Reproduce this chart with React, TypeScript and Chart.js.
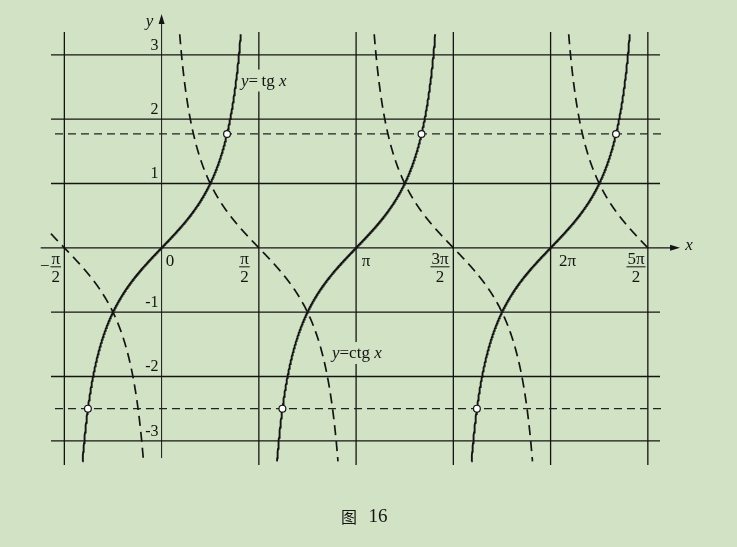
import React, { useEffect, useRef } from "react";
import { Chart, registerables } from "chart.js";
Chart.register(...registerables);

const PI = Math.PI;

// x ticks, in multiples of π
const xTickMultiples = [-0.5, 0, 0.5, 1, 1.5, 2, 2.5];
const xTickSigns = ["−", "", "", "", "", "", ""];
const xTickNumerators = ["π", "0", "π", "π", "3π", "2π", "5π"];
const xTickDenominators = ["2", "", "2", "", "2", "", "2"];

// y ticks
const yTickValues = [3, 2, 1, -1, -2, -3];
const yTickLabels = ["3", "2", "1", "-1", "-2", "-3"];

// tan branches: centres in multiples of π
const tanBranchCentres = [0, 1, 2];
// cot branches: [from, to] in multiples of π
const cotBranchFrom = [-0.577, 0, 1, 2];
const cotBranchTo = [0, 1, 2, 2.5];
const curveLimit = 3.32;

// dashed horizontal levels
const levelValues = [1.77, -2.5];
const levelFrom = -1.722;
const levelTo = 8.099;

// axis extents (radians / units)
const xAxisFrom = -1.953;
const xAxisTo = 8.374;
const yAxisFrom = -3.268;
const yAxisTo = 3.634;

// scale ranges
const xMin = -1.7865;
const xMax = 8.0504;
const yMin = -3.376;
const yMax = 3.355;

// curve labels: [x (rad), y (baseline value)]
const tanLabelPos = [1.2825, 2.523];
const cotLabelPos = [2.752, -1.713];

const BG = "#d2e2c5";
const INK = "#141414";
const SERIF = '"Liberation Serif", "DejaVu Serif", serif';

function tanPoints(c: number) {
  const a = Math.atan(curveLimit);
  const N = 600;
  const pts: { x: number; y: number }[] = [];
  for (let i = 0; i <= N; i++) {
    const t = -a + (2 * a * i) / N;
    pts.push({ x: c * PI + t, y: Math.tan(t) });
  }
  return pts;
}

function cotPoints(from: number, to: number) {
  const k = Math.floor(from + 1e-9);
  const e = Math.atan(1 / curveLimit);
  const lo = Math.max(from * PI, k * PI + e);
  const hi = Math.min(to * PI, (k + 1) * PI - e);
  const N = 600;
  const pts: { x: number; y: number }[] = [];
  for (let i = 0; i <= N; i++) {
    const x = lo + ((hi - lo) * i) / N;
    pts.push({ x, y: 1 / Math.tan(x) });
  }
  return pts;
}

function drawMixed(
  ctx: CanvasRenderingContext2D,
  parts: { t: string; it: boolean }[],
  x: number,
  y: number,
  size: number,
  patch: boolean
) {
  let w = 0;
  parts.forEach((p) => {
    ctx.font = `${p.it ? "italic " : ""}${size}px ${SERIF}`;
    w += ctx.measureText(p.t).width;
  });
  if (patch) {
    ctx.fillStyle = BG;
    ctx.fillRect(x - 2, y - size + 1, w + 4, size + 5);
  }
  ctx.fillStyle = INK;
  ctx.textAlign = "left";
  ctx.textBaseline = "alphabetic";
  let cx = x;
  parts.forEach((p) => {
    ctx.font = `${p.it ? "italic " : ""}${size}px ${SERIF}`;
    ctx.fillText(p.t, cx, y);
    cx += ctx.measureText(p.t).width;
  });
}

const figurePlugin = {
  id: "figure",
  beforeDraw(chart: any) {
    const { ctx, width, height } = chart;
    ctx.save();
    ctx.fillStyle = BG;
    ctx.fillRect(0, 0, width, height);
    ctx.restore();
  },
  beforeDatasetsDraw(chart: any) {
    const { ctx, chartArea } = chart;
    const xs = chart.scales.x;
    const ys = chart.scales.y;
    ctx.save();
    const seg = (x1: number, y1: number, x2: number, y2: number) => {
      ctx.beginPath();
      ctx.moveTo(x1, y1);
      ctx.lineTo(x2, y2);
      ctx.stroke();
    };
    ctx.strokeStyle = INK;
    ctx.lineWidth = 1.3;
    // vertical grid
    xTickMultiples.forEach((m) => {
      if (m === 0) return;
      const px = xs.getPixelForValue(m * PI);
      seg(px, chartArea.top, px, chartArea.bottom);
    });
    // horizontal grid
    yTickValues.forEach((v) => {
      const py = ys.getPixelForValue(v);
      seg(chartArea.left, py, chartArea.right, py);
    });
    // x axis with arrow
    const y0 = ys.getPixelForValue(0);
    const xa = xs.getPixelForValue(xAxisFrom);
    const xb = xs.getPixelForValue(xAxisTo);
    seg(xa, y0, xb - 6, y0);
    ctx.fillStyle = INK;
    ctx.beginPath();
    ctx.moveTo(xb, y0);
    ctx.lineTo(xb - 10, y0 - 3);
    ctx.lineTo(xb - 10, y0 + 3);
    ctx.closePath();
    ctx.fill();
    // y axis with arrow
    const x0 = xs.getPixelForValue(0);
    const ya = ys.getPixelForValue(yAxisFrom);
    const yb = ys.getPixelForValue(yAxisTo);
    ctx.lineWidth = 1;
    seg(x0, ya, x0, yb + 6);
    ctx.beginPath();
    ctx.moveTo(x0, yb);
    ctx.lineTo(x0 - 3, yb + 10);
    ctx.lineTo(x0 + 3, yb + 10);
    ctx.closePath();
    ctx.fill();

    // axis names
    ctx.fillStyle = INK;
    ctx.font = `italic 17px ${SERIF}`;
    ctx.textAlign = "center";
    ctx.textBaseline = "middle";
    ctx.fillText("x", xb + 9, y0 - 2);
    ctx.fillText("y", x0 - 12, yb + 7);

    // y tick labels
    ctx.font = `16px ${SERIF}`;
    ctx.textAlign = "right";
    ctx.textBaseline = "alphabetic";
    yTickValues.forEach((v, i) => {
      const py = ys.getPixelForValue(v);
      ctx.fillText(yTickLabels[i], x0 - 3, py - 5);
    });

    // x tick labels
    const fracOffsets = [-8.6, 8.4, -14.4, 10, -13.3, 17, -11.8];
    xTickMultiples.forEach((m, i) => {
      const px = xs.getPixelForValue(m * PI) + fracOffsets[i];
      const num = xTickNumerators[i];
      const den = xTickDenominators[i];
      ctx.fillStyle = INK;
      ctx.textAlign = "center";
      ctx.textBaseline = "alphabetic";
      ctx.font = `17px ${SERIF}`;
      if (den) {
        const w = ctx.measureText(num).width;
        ctx.fillText(num, px, y0 + 16);
        ctx.lineWidth = 1;
        seg(px - w / 2 - 1, y0 + 19, px + w / 2 + 1, y0 + 19);
        ctx.fillText(den, px, y0 + 34);
        if (xTickSigns[i]) {
          ctx.textAlign = "right";
          ctx.fillText(xTickSigns[i], px - w / 2 - 2, y0 + 23);
        }
      } else {
        ctx.fillText(num, px, y0 + 18);
      }
    });

    // curve labels with background patches
    drawMixed(
      ctx,
      [
        { t: "y", it: true },
        { t: "=", it: false },
        { t: "\u2009tg ", it: false },
        { t: "x", it: true },
      ],
      xs.getPixelForValue(tanLabelPos[0]),
      ys.getPixelForValue(tanLabelPos[1]),
      17,
      true
    );
    drawMixed(
      ctx,
      [
        { t: "y", it: true },
        { t: "=", it: false },
        { t: "ctg ", it: false },
        { t: "x", it: true },
      ],
      xs.getPixelForValue(cotLabelPos[0]),
      ys.getPixelForValue(cotLabelPos[1]),
      17,
      true
    );

    // caption
    ctx.fillStyle = INK;
    ctx.textBaseline = "middle";
    ctx.textAlign = "center";
    ctx.font = `16px "Noto Sans CJK SC", sans-serif`;
    ctx.fillText("图", 349, 517);
    ctx.font = `19px ${SERIF}`;
    ctx.fillText("16", 378, 517);
    ctx.restore();
  },
};

export default function App() {
  const ref = useRef<HTMLCanvasElement | null>(null);
  useEffect(() => {
    if (!ref.current) return;
    const circles: { x: number; y: number }[] = [];
    levelValues.forEach((lv) => {
      tanBranchCentres.forEach((c) => {
        circles.push({ x: c * PI + Math.atan(lv), y: lv });
      });
    });
    const datasets: any[] = [];
    datasets.push({
      data: circles,
      showLine: false,
      pointRadius: 3.4,
      pointBackgroundColor: "#ffffff",
      pointBorderColor: INK,
      pointBorderWidth: 1.2,
      order: 0,
      clip: false,
    });
    tanBranchCentres.forEach((c) => {
      datasets.push({
        data: tanPoints(c),
        showLine: true,
        pointRadius: 0,
        borderColor: INK,
        borderWidth: 1.9,
        order: 1,
        clip: false,
      });
    });
    cotBranchFrom.forEach((f, i) => {
      datasets.push({
        data: cotPoints(f, cotBranchTo[i]),
        showLine: true,
        pointRadius: 0,
        borderColor: INK,
        borderWidth: 1.7,
        borderDash: [10, 6],
        order: 2,
        clip: false,
      });
    });
    levelValues.forEach((lv) => {
      datasets.push({
        data: [
          { x: levelFrom, y: lv },
          { x: levelTo, y: lv },
        ],
        showLine: true,
        pointRadius: 0,
        borderColor: "#222222",
        borderWidth: 1.2,
        borderDash: [8, 5],
        order: 3,
        clip: false,
      });
    });
    const chart = new Chart(ref.current, {
      type: "scatter",
      data: { datasets },
      options: {
        responsive: false,
        animation: false,
        events: [],
        layout: { padding: { left: 51, right: 77, top: 32, bottom: 82 } },
        scales: {
          x: { type: "linear", display: false, min: xMin, max: xMax },
          y: { type: "linear", display: false, min: yMin, max: yMax },
        },
        plugins: { legend: { display: false }, tooltip: { enabled: false } },
        elements: { line: { tension: 0 } },
      } as any,
      plugins: [figurePlugin as any],
    });
    return () => chart.destroy();
  }, []);
  return (
    <div
      style={{
        position: "fixed",
        left: 0,
        top: 0,
        width: 737,
        height: 547,
        background: BG,
      }}
    >
      <canvas ref={ref} width={737} height={547} style={{ display: "block" }} />
    </div>
  );
}
